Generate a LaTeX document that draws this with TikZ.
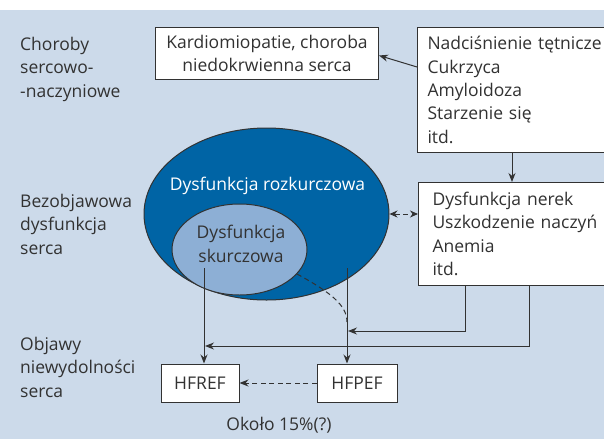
\documentclass[tikz,border=0pt]{standalone}
\usepackage{fontspec}
\setmainfont{Open Sans}
\usetikzlibrary{positioning,arrows.meta,shapes.geometric,calc}
\definecolor{tlo}{RGB}{204,218,234}
\definecolor{ciemny}{RGB}{0,100,165}
\definecolor{jasny}{RGB}{141,175,213}
\definecolor{tekst}{RGB}{50,50,50}
\tikzset{
  napis/.style={text=tekst,font=\fontsize{17.5}{23.3}\selectfont,align=left,inner sep=0pt},
  ramka/.style={draw=tekst,fill=white,line width=1pt,text=tekst,font=\fontsize{17.5}{23.3}\selectfont,inner sep=0pt},
  strzalka/.style={draw=tekst,line width=1pt,-{Stealth[length=9pt,width=7pt]}},
  kreski/.style={draw=tekst,line width=1pt,dash pattern=on 5pt off 3.5pt},
}
\begin{document}
\begin{tikzpicture}[x=1pt,y=-1pt]
    \clip (0,0) rectangle (604,439);
    \fill[tlo] (0,10) rectangle (604,439);
    % opisy po lewej (base = ostatnia linia)
    \node[napis,anchor=base west] (opisA) at (20,97) {Choroby\\sercowo-\\-naczyniowe};
    \node[napis,anchor=base west] (opisB) at (20,254) {Bezobjawowa\\dysfunkcja\\serca};
    \node[napis,anchor=base west] (opisC) at (20,397) {Objawy\\niewydolności\\serca};
    % ramki
    \node[ramka,minimum width=223,minimum height=52,align=center,anchor=north west] (kardio) at (155,27)
      {Kardiomiopatie, choroba\\niedokrwienna serca};
    \node[ramka,minimum width=220,minimum height=125,anchor=north west,align=left,text width=200,inner xsep=10] (nadc) at (417,27)
      {Nadciśnienie tętnicze\\Cukrzyca\\Amyloidoza\\Starzenie się\\itd.};
    \node[ramka,minimum width=220,minimum height=103,anchor=north west,align=left,text width=196,inner xsep=14] (nerek) at (418,182)
      {Dysfunkcja nerek\\Uszkodzenie naczyń\\Anemia\\itd.};
    % elipsy
    \node[ellipse,draw=tekst,line width=1pt,fill=ciemny,minimum width=245,minimum height=172,inner sep=0pt] (rozk) at (266.5,214) {};
    \node[ellipse,draw=tekst,line width=1pt,fill=jasny,minimum width=135,minimum height=91,inner sep=0pt] (skurcz) at (239.5,249.5) {};
    \node[napis,text=white,anchor=base] (rozkTxt) at (267.5,190) {Dysfunkcja rozkurczowa};
    \node[napis,align=center,anchor=base] (skurczTxt) at (241,262) {Dysfunkcja\\skurczowa};
    % HF
    \node[ramka,minimum width=78,minimum height=38] (hfref) at (200,383) {HFREF};
    \node[ramka,minimum width=80,minimum height=38] (hfpef) at (357,383) {HFPEF};
    \node[napis,anchor=base] (okolo) at (279,430) {Około 15\%(?)};
    % polaczenia
    \draw[strzalka] ($(nadc.north west)+(0,40)$) -- ($(kardio.east)+(0,2)$);
    \draw[strzalka] ($(nadc.south west)+(95,0)$) -- ($(nerek.north west)+(94,0)$);
    \draw[kreski,{Stealth[length=8pt,width=7pt]}-{Stealth[length=8pt,width=7pt]}]
      (rozk.east) -- (rozk.east -| nerek.west);
    \coordinate (zSkurcz) at (204,268);
    \coordinate (zRozk) at (347,268);
    \draw[strzalka] (zSkurcz) -- (zSkurcz |- hfref.north);
    \draw[strzalka] (zRozk) -- (zRozk |- hfpef.north);
    \draw[kreski] (297,274) .. controls (330,292) and (347,305) .. (347,322);
    \draw[strzalka] ($(nerek.south west)+(47,0)$) |- (348,331);
    \draw[strzalka] ($(nerek.south west)+(111,0)$) |- (205,346);
    \draw[kreski,-{Stealth[length=9pt,width=7pt]}] (hfpef.west) -- (hfref.east);
\end{tikzpicture}
\end{document}
